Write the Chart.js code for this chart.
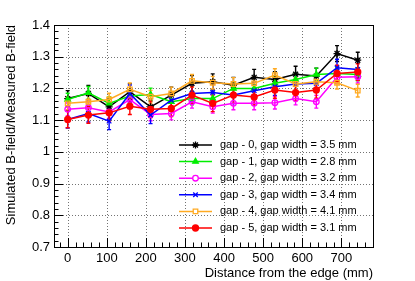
<!DOCTYPE html>
<html>
<head>
<meta charset="utf-8">
<script src="https://cdn.jsdelivr.net/npm/chart.js@4"></script>
<style>
  body { margin: 0; background: #fff; }
  canvas { display: block; }
</style>
</head>
<body>
<canvas id="chart" width="415" height="281"></canvas>
<script>
// distance from the edge (mm)
const distance = [0, 53, 106, 159, 212, 265, 318, 371, 424, 477, 530, 583, 636, 689, 742];

const gap0 = [1.168, 1.184, 1.142, 1.190, 1.142, 1.179, 1.216, 1.221, 1.210, 1.235, 1.228, 1.245, 1.239, 1.310, 1.289];
const gap1 = [1.165, 1.186, 1.153, 1.176, 1.181, 1.158, 1.168, 1.168, 1.200, 1.200, 1.216, 1.228, 1.244, 1.247, 1.244];
const gap2 = [1.134, 1.139, 1.126, 1.165, 1.118, 1.121, 1.158, 1.142, 1.153, 1.153, 1.155, 1.168, 1.158, 1.235, 1.237];
const gap3 = [1.102, 1.121, 1.097, 1.184, 1.116, 1.163, 1.184, 1.187, 1.179, 1.193, 1.205, 1.214, 1.216, 1.265, 1.260];
const gap4 = [1.153, 1.158, 1.165, 1.197, 1.174, 1.184, 1.224, 1.218, 1.214, 1.216, 1.242, 1.214, 1.221, 1.218, 1.193];
const gap5 = [1.102, 1.116, 1.123, 1.144, 1.134, 1.137, 1.179, 1.153, 1.179, 1.173, 1.195, 1.187, 1.195, 1.247, 1.252];

// error on each point, one value per series
const gapErrors = [0.025, 0.02, 0.02, 0.027, 0.02, 0.026];

const gapLabels = [
  "gap - 0, gap width = 3.5 mm",
  "gap - 1, gap width = 2.8 mm",
  "gap - 2, gap width = 3.2 mm",
  "gap - 3, gap width = 3.4 mm",
  "gap - 4, gap width = 4.1 mm",
  "gap - 5, gap width = 3.1 mm",
];

const xTicks = [0, 100, 200, 300, 400, 500, 600, 700];
const yTicks = [0.7, 0.8, 0.9, 1, 1.1, 1.2, 1.3, 1.4];

const FONT = "'Liberation Sans', Helvetica, Arial, sans-serif";

const colors = ["#000000", "#00ee00", "#ff00ff", "#0000ff", "#ffaa22", "#ff0000"];
const styles = ["star", "triangle", "circle", "crossRot", "rect", "circle"];
const fills = ["#000000", "#00ee00", "rgba(0,0,0,0)", "#0000ff", "rgba(0,0,0,0)", "#ff0000"];
const radii = [3.5, 3.2, 2.8, 3.2, 3.2, 3];

const series = [gap0, gap1, gap2, gap3, gap4, gap5];

const datasets = series.map((vals, i) => ({
  label: gapLabels[i],
  data: vals.map((v, j) => ({ x: distance[j], y: v })),
  borderColor: colors[i],
  backgroundColor: fills[i],
  borderWidth: 1.5,
  pointStyle: styles[i],
  pointRadius: radii[i],
  pointBorderWidth: 1.3,
  pointBorderColor: colors[i],
  pointBackgroundColor: fills[i],
  tension: 0,
  fill: false,
  order: 5 - i,
}));

// ROOT-like frame: dotted grid, inside ticks, box
const frame = {
  id: "frame",
  beforeDatasetsDraw(chart) {
    const { ctx, chartArea: a, scales: { x, y } } = chart;
    ctx.save();
    ctx.strokeStyle = "rgba(0,0,0,0.55)";
    ctx.lineWidth = 1;
    ctx.setLineDash([1, 2]);
    xTicks.forEach((t) => {
      const px = Math.round(x.getPixelForValue(t)) + 0.5;
      ctx.beginPath();
      ctx.moveTo(px, a.top);
      ctx.lineTo(px, a.bottom);
      ctx.stroke();
    });
    yTicks.slice(1, -1).forEach((t) => {
      const py = Math.round(y.getPixelForValue(t)) + 0.5;
      ctx.beginPath();
      ctx.moveTo(a.left, py);
      ctx.lineTo(a.right, py);
      ctx.stroke();
    });
    ctx.setLineDash([]);

    // error bars
    chart.data.datasets.forEach((ds, i) => {
      ctx.strokeStyle = colors[i];
      ctx.lineWidth = 1.4;
      ds.data.forEach((p) => {
        const px = x.getPixelForValue(p.x);
        const y1 = y.getPixelForValue(p.y - gapErrors[i]);
        const y2 = y.getPixelForValue(p.y + gapErrors[i]);
        ctx.beginPath();
        ctx.moveTo(px, y1);
        ctx.lineTo(px, y2);
        ctx.moveTo(px - 2, y1);
        ctx.lineTo(px + 2, y1);
        ctx.moveTo(px - 2, y2);
        ctx.lineTo(px + 2, y2);
        ctx.stroke();
      });
    });
    ctx.restore();
  },
  afterDraw(chart) {
    const { ctx, chartArea: a, scales: { x, y } } = chart;
    ctx.save();
    ctx.strokeStyle = "#000";
    ctx.lineWidth = 1;
    ctx.strokeRect(a.left + 0.5, a.top + 0.5, a.right - a.left, a.bottom - a.top);

    ctx.beginPath();
    for (let v = 0.7; v <= 1.4001; v += 0.02) {
      const py = Math.round(y.getPixelForValue(v)) + 0.5;
      const major = Math.abs(v * 10 - Math.round(v * 10)) < 0.001;
      ctx.moveTo(a.left, py);
      ctx.lineTo(a.left + (major ? 9 : 4.5), py);
    }
    for (let v = -20; v <= 780; v += 20) {
      const px = Math.round(x.getPixelForValue(v)) + 0.5;
      const major = v % 100 === 0;
      ctx.moveTo(px, a.bottom);
      ctx.lineTo(px, a.bottom - (major ? 9 : 4.5));
    }
    ctx.stroke();

    // legend
    ctx.font = "11px " + FONT;
    ctx.textBaseline = "middle";
    gapLabels.forEach((label, i) => {
      const ly = 145 + i * 16.6;
      ctx.strokeStyle = colors[i];
      ctx.lineWidth = 1.5;
      ctx.beginPath();
      ctx.moveTo(179, ly);
      ctx.lineTo(212, ly);
      ctx.stroke();
      ctx.fillStyle = fills[i] === "rgba(0,0,0,0)" ? "#fff" : fills[i];
      ctx.lineWidth = 1.3;
      Chart.helpers.drawPoint(ctx, {
        pointStyle: styles[i],
        radius: radii[i],
        borderWidth: 1.3,
        rotation: 0,
      }, 195.5, ly);
      ctx.fillStyle = "#000";
      ctx.fillText(label, 220, ly);
    });
    ctx.restore();
  },
};

new Chart(document.getElementById("chart"), {
  type: "line",
  data: { datasets: datasets },
  options: {
    responsive: false,
    animation: false,
    layout: { padding: { top: 25, right: 42, left: 0, bottom: 0 } },
    scales: {
      x: {
        type: "linear",
        min: -35,
        max: 781,
        afterFit(s) { s.height = 34; },
        grid: { display: false, drawTicks: false },
        border: { display: false },
        ticks: {
          stepSize: 100,
          includeBounds: false,
          autoSkip: false,
          maxRotation: 0,
          padding: 4,
          color: "#000",
          font: { family: FONT, size: 13 },
        },
        title: {
          display: true,
          text: "Distance from the edge (mm)",
          align: "end",
          color: "#000",
          padding: { top: 0, bottom: 0 },
          font: { family: FONT, size: 13 },
        },
      },
      y: {
        min: 0.7,
        max: 1.4,
        afterFit(s) { s.width = 54; },
        grid: { display: false, drawTicks: false },
        border: { display: false },
        ticks: {
          stepSize: 0.1,
          padding: 4,
          color: "#000",
          font: { family: FONT, size: 13 },
          callback: (v) => String(+v.toFixed(1)),
        },
        title: {
          display: true,
          text: "Simulated B-field/Measured B-field",
          align: "end",
          color: "#000",
          padding: { top: 4, bottom: 0 },
          font: { family: FONT, size: 13 },
        },
      },
    },
    plugins: {
      legend: { display: false },
      tooltip: { enabled: false },
    },
  },
  plugins: [frame],
});
</script>
</body>
</html>
